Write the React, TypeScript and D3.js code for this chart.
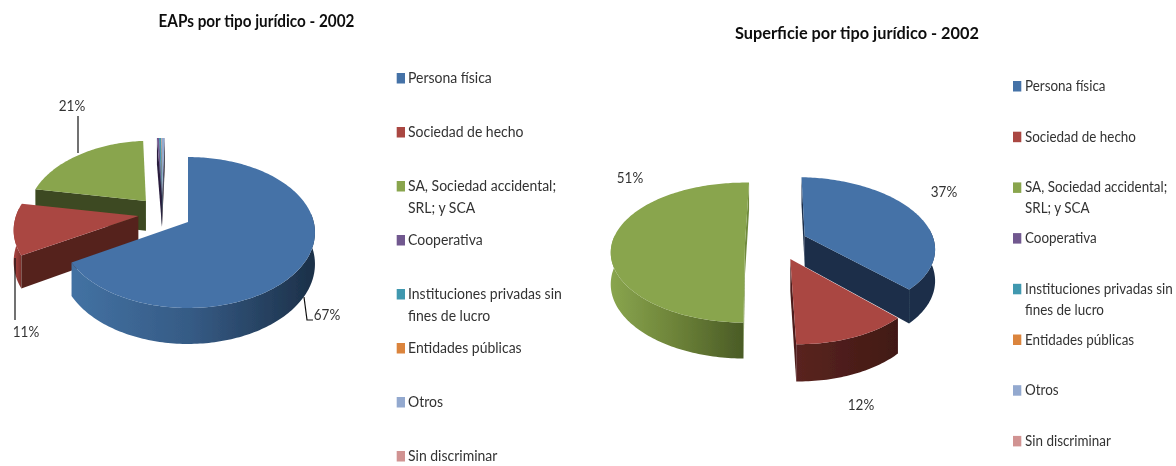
import React from "react";
import * as d3 from "d3";

// ---------- data ----------
const categories = [
  ["Persona física"],
  ["Sociedad de hecho"],
  ["SA, Sociedad accidental;", "SRL; y SCA"],
  ["Cooperativa"],
  ["Instituciones privadas sin", "fines de lucro"],
  ["Entidades públicas"],
  ["Otros"],
  ["Sin discriminar"],
];
const eapValues = [66.5, 11.3, 21, 0.3, 0.3, 0.05, 0.5, 0.05];
const superficieValues = [37.3, 12.3, 50.4, 0, 0, 0, 0, 0];
const eapTitle = "EAPs por tipo jurídico - 2002";
const superficieTitle = "Superficie por tipo jurídico - 2002";
const eapLabels = ["67%", "11%", "21%"];
const superficieLabels = ["37%", "12%", "51%"];

// ---------- style ----------
const topColors = ["#4572a7", "#aa4643", "#89a54e", "#71588f", "#4198af", "#db843d", "#93a9cf", "#d19392"];
const FONT = "Lato, 'Open Sans', sans-serif";

type Chart = {
  id: string; values: number[]; cx: number; cy: number; R: number; Rv: number; k: number; depth: number;
  start: number; offsets: number[][]; radii: number[]; order: number[];
  arcStops: string[][]; radial: string[];
};

const left: Chart = {
  id: "l", values: eapValues, cx: 188, cy: 222, R: 127, Rv: 74, k: 0.139, depth: 31, start: 0,
  offsets: [[0, 0], [-0.395, 0.082], [-0.345, 0.296], [-0.215, 0.35], [-0.215, 0.35], [-0.215, 0.35], [-0.215, 0.35], [-0.215, 0.35]],
  radii: [0.99, 0.975, 0.95, 1, 1, 1, 1, 1],
  order: [2, 7, 6, 5, 4, 3, 1, 0],
  arcStops: [["#4372a3", "#355a84", "#1c3048"], ["#a8423f", "#953a38", "#7c2f2c"], ["#3b4a1e", "#3b4a1e", "#3b4a1e"], ["#2a1f3e", "#2a1f3e", "#2a1f3e"], ["#1d4a58", "#1d4a58", "#1d4a58"], ["#6e421f", "#6e421f", "#6e421f"], ["#4a5568", "#4a5568", "#4a5568"], ["#694a49", "#694a49", "#694a49"]],
  radial: ["#1f3350", "#54231f", "#3c4a20", "#2a1f3e", "#1d4a58", "#6e421f", "#4a5568", "#694a49"],
};
const right: Chart = {
  id: "r", values: superficieValues, cx: 745, cy: 243, R: 133, Rv: 68.7, k: 0.137, depth: 31, start: 2,
  offsets: [[0.455, 0.103], [0.33, -0.226], [0, 0], [0, 0], [0, 0], [0, 0], [0, 0], [0, 0]],
  radii: [0.975, 0.97, 1, 1, 1, 1, 1, 1],
  order: [2, 3, 4, 5, 6, 7, 0, 1],
  arcStops: [["#1b2f4a", "#1b2f4a", "#1b2f4a"], ["#5a2420", "#4d1e1a", "#411915"], ["#89a54e", "#6c8238", "#4a5b26"], ["#2a1f3e", "#2a1f3e", "#2a1f3e"], ["#1d4a58", "#1d4a58", "#1d4a58"], ["#6e421f", "#6e421f", "#6e421f"], ["#4a5568", "#4a5568", "#4a5568"], ["#694a49", "#694a49", "#694a49"]],
  radial: ["#1b2f4a", "#4d1e1a", "#6f8a3c", "#2a1f3e", "#1d4a58", "#6e421f", "#4a5568", "#694a49"],
};

const line = d3.line<[number, number]>();

function PieChart({ c }: { c: Chart }) {
  const arcs = d3.pie<number>().sort(null).value((d) => d)
    .startAngle((c.start * Math.PI) / 180)
    .endAngle(((c.start + 360) * Math.PI) / 180)(c.values);

  const project = (u: number, v: number, drop: number): [number, number] => {
    const w = 1 + c.k * v;
    return [c.cx + (c.R * u) / w, c.cy - (c.Rv * v) / w + (c.depth * drop) / w];
  };

  return (
    <g>
      {c.order.map((i) => {
        const a = arcs[i];
        if (a.endAngle <= a.startAngle) return null;
        const [eu, ev] = c.offsets[i];
        const rad = c.radii[i];
        const pt = (ang: number, r: number, drop: number) =>
          project(eu + rad * r * Math.sin(ang), ev + r * Math.cos(ang), drop);
        const n = Math.max(2, Math.ceil((a.endAngle - a.startAngle) / 0.02));
        const angles = d3.range(n + 1).map((j) => a.startAngle + ((a.endAngle - a.startAngle) * j) / n);
        const topPts: [number, number][] = [pt(0, 0, 0), ...angles.map((t) => pt(t, 1, 0))];

        const frontAngles = angles.filter((t) => Math.cos(t) <= 0.12);
        const wallPts: [number, number][] = [
          ...frontAngles.map((t) => pt(t, 1, 0)),
          ...frontAngles.slice().reverse().map((t) => pt(t, 1, 1)),
        ];

        const mid = pt((a.startAngle + a.endAngle) / 2, 0.6, 0);
        const radialWall = (ang: number) => {
          const A = pt(0, 0, 0), B = pt(ang, 1, 0);
          const nx = -(B[1] - A[1]), ny = B[0] - A[0];
          const inside = (mid[0] - A[0]) * nx + (mid[1] - A[1]) * ny;
          if (inside * ny >= 0) return null;
          const pts: [number, number][] = [A, B, pt(ang, 1, 1), pt(0, 0, 1)];
          return <path d={line(pts) + "Z"} fill={c.radial[i]} />;
        };
        const gid = `${c.id}-wall-${i}`;
        return (
          <g key={i}>
            <defs>
              <linearGradient id={gid} x1="0" x2="1" y1="0" y2="0">
                {c.arcStops[i].map((s, j) => (
                  <stop key={j} offset={j / (c.arcStops[i].length - 1)} stopColor={s} />
                ))}
              </linearGradient>
            </defs>
            {frontAngles.length > 1 && <path d={line(wallPts) + "Z"} fill={`url(#${gid})`} />}
            {radialWall(a.startAngle)}
            {radialWall(a.endAngle)}
            <path d={line(topPts) + "Z"} fill={topColors[i]} />
          </g>
        );
      })}
    </g>
  );
}

function T({ x, y, sx, size, bold, anchor, children }: { x: number; y: number; sx: number; size: number; bold?: boolean; anchor?: string; children: React.ReactNode }) {
  return (
    <text transform={`translate(${x},${y}) scale(${sx},1)`} textAnchor={anchor || "start"} fontSize={size}
      fontWeight={bold ? 700 : 400} fontFamily={FONT} fill={bold ? "#111" : "#333"}>{children}</text>
  );
}

function Legend({ x, y0, pitch, textX, lineGap, sx }: { x: number; y0: number; pitch: number; textX: number; lineGap: number; sx: number }) {
  return (
    <g>
      {categories.map((lines, i) => {
        const y = y0 + i * pitch;
        return (
          <g key={i}>
            <rect x={x} y={y - 5} width={8.3} height={10.5} fill={topColors[i]} />
            {lines.map((t, j) => (
              <T key={j} x={textX} y={y + 5 + j * lineGap} sx={sx} size={16}>{t}</T>
            ))}
          </g>
        );
      })}
    </g>
  );
}

const Lbl = ({ x, y, t }: { x: number; y: number; t: string }) => (
  <T x={x} y={y} sx={0.9} size={15} anchor="middle">{t}</T>
);

export default function App() {
  return (
    <svg width={1176} height={466} style={{ position: "absolute", left: 0, top: 0, background: "#fff" }}>
      <defs>
        <filter id="soft" x="0" y="0" width="100%" height="100%"><feGaussianBlur stdDeviation="0.4" /></filter>
      </defs>
      <g filter="url(#soft)">
        <T x={256.5} y={27} sx={0.9} size={17} bold anchor="middle">{eapTitle}</T>
        <T x={857} y={39} sx={0.96} size={17} bold anchor="middle">{superficieTitle}</T>
        <PieChart c={left} />
        <PieChart c={right} />
        <g stroke="#111" strokeWidth={1.2} fill="none">
          <path d={line([[78, 116], [78, 153]])!} />
          <path d={line([[15, 258], [15, 320]])!} />
          <path d={line([[304, 297], [307, 320], [313, 320]])!} />
        </g>
        <Lbl x={327} y={320} t={eapLabels[0]} />
        <Lbl x={26} y={337} t={eapLabels[1]} />
        <Lbl x={72} y={111} t={eapLabels[2]} />
        <Lbl x={944} y={197} t={superficieLabels[0]} />
        <Lbl x={861} y={410} t={superficieLabels[1]} />
        <Lbl x={630} y={183} t={superficieLabels[2]} />
        <Legend x={396.7} y0={78} pitch={54} textX={408} lineGap={22} sx={0.875} />
        <Legend x={1013} y0={86} pitch={50.7} textX={1025} lineGap={21} sx={0.84} />
      </g>
    </svg>
  );
}
